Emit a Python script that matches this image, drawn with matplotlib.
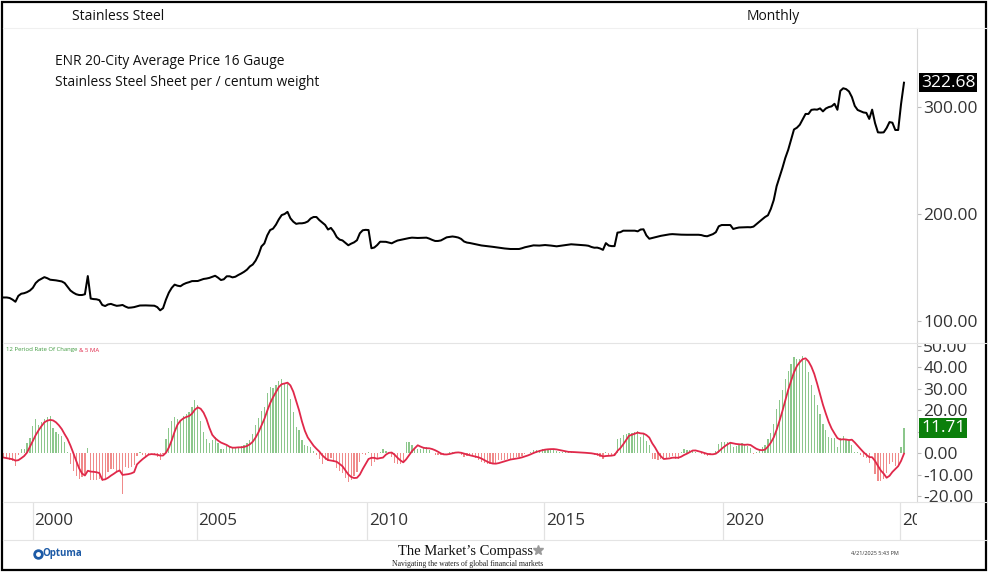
import numpy as np
import pandas as pd
import matplotlib
matplotlib.use("Agg")
import matplotlib.pyplot as plt
from matplotlib.patches import Rectangle
from matplotlib.lines import Line2D
from matplotlib.transforms import Bbox, TransformedBbox, blended_transform_factory, offset_copy

# ---------------- data ----------------
title_left = "Stainless Steel"
title_right = "Monthly"
series_note = ["ENR 20-City Average Price 16 Gauge",
               "Stainless Steel Sheet per / centum weight"]
roc_label = "12 Period Rate Of Change"
ma_label = "& 5 MA"
roc_period = 12
ma_period = 5

# monthly prices for the 12 months before the visible window (needed for the ROC)
price_prior = [124.5, 125.1, 125.3, 124.4, 125.5, 124.7, 123.0, 123.5, 121.4, 119.8, 116.2, 117.0]

# monthly prices, early 1999 -> early 2025
price = [
    122, 122, 121.5, 120, 118, 123.5, 125.5, 126, 127, 128.5,
    131, 135.5, 138, 139.5, 141, 140, 138.6, 138.3, 138, 137.5,
    137, 135.5, 132, 128.5, 126.5, 125, 124.3, 124.3, 125, 142,
    121, 120.5, 120.3, 119.5, 115, 114, 115.5, 116, 115, 114.2,
    114.5, 115, 113.5, 112.4, 112.6, 113, 113.8, 114.5, 114.6, 114.6,
    114.5, 114.4, 114.3, 113, 110, 112, 120, 126.5, 131, 134,
    133, 132.5, 134.3, 135.5, 136.3, 137.3, 137.4, 137.4, 138.3, 139.3,
    139.7, 140.3, 141.3, 142.3, 140.5, 138.3, 139, 141.8, 141.8, 140.8,
    141.4, 143, 144.4, 146, 148, 151, 152.8, 156.5, 162, 169.7,
    172.5, 180, 185, 186.3, 190, 195, 199, 200, 202, 196,
    192.8, 190.8, 191.3, 191.3, 191.8, 193, 195.8, 197.2, 197.2, 194.3,
    192, 189.8, 185.5, 187, 183.5, 178.5, 176.1, 175.3, 173, 170.8,
    172.3, 173.5, 175.5, 182, 184.8, 185.2, 185, 168, 168.7, 171,
    174.1, 174.1, 174, 173.3, 172.6, 174, 175.2, 175.8, 176.4, 177,
    177.5, 177.9, 177.7, 177.6, 177.7, 177.8, 177.9, 177, 175.8, 174.8,
    174.8, 175.3, 176.8, 178.2, 178.6, 179, 178.6, 178, 176.7, 174.3,
    173.3, 172.9, 172.3, 171.6, 171, 170.6, 170.3, 169.9, 169.6, 169.3,
    168.9, 168.5, 168.1, 167.8, 167.5, 167.3, 167.3, 167.3, 167.3, 168,
    168.9, 169.5, 170.2, 170.7, 170.6, 170.5, 170.7, 171, 170.8, 170.5,
    170.1, 169.8, 170.2, 170.7, 171, 171.4, 171.7, 171.5, 171.3, 171.1,
    170.9, 170.7, 170.3, 169.2, 168.5, 168.6, 167.8, 166.5, 172.8, 170.5,
    170, 170, 182.6, 183, 184.4, 184.4, 184.4, 184.4, 184.4, 183.8,
    185.5, 185.7, 180, 176.9, 177.6, 178.2, 178.9, 179.6, 180.1, 180.6,
    181, 181.2, 181, 180.8, 180.7, 180.6, 180.6, 180.6, 180.6, 180.6,
    180.6, 180.3, 179.5, 179.2, 180.2, 181.2, 183, 188.5, 189.7, 189.7,
    189.7, 189.7, 186, 186.8, 187.4, 187.5, 187.6, 187.7, 187.6, 188.2,
    190.5, 192.7, 195, 197.2, 198.8, 204.8, 213, 226, 234.5, 243,
    252.4, 260, 269.5, 279, 280.6, 283.4, 288.5, 293.5, 293.5, 297.3,
    297.7, 297.5, 298.7, 295.9, 298.6, 299.9, 300.6, 303, 297.4, 315,
    317.5, 316.7, 314.5, 309.3, 301, 297.2, 296.1, 294.9, 294.5, 288.85,
    297.5, 285, 276.3, 276.1, 276.3, 280.3, 285.9, 285.3, 278.5, 278.5,
    303, 322.68,
]

year_labels = ["2000", "2005", "2010", "2015", "2020", "2025"]
price_ticks = [100, 200, 300]
roc_ticks = [-20, -10, 0, 10, 20, 30, 40, 50]

# ---------------- derived series ----------------
full = np.array(price_prior + price, dtype=float)
roc = (full[roc_period:] / full[:-roc_period] - 1.0) * 100.0
ma = pd.Series(roc).rolling(ma_period, min_periods=1).mean().to_numpy()
x = np.arange(len(price))

# ---------------- layout ----------------
W, H = 989, 572
fig = plt.figure(figsize=(W / 100, H / 100), dpi=100)
fig.patch.set_facecolor("white")
plt.rcParams["font.family"] = ["Open Sans", "DejaVu Sans"]

def fx(px):
    return px / W

def fy(py):
    return 1 - py / H

L, R = 3, 917
year_tick_pos = [9.9, 66.6, 125.5, 186.7, 248.5, 309.5]   # bar-index positions of the year marks
xlim = (-0.3, 315.5)

ax1 = fig.add_axes([fx(L), fy(342), fx(R) - fx(L), fy(28) - fy(342)])
ax2 = fig.add_axes([fx(L), fy(502), fx(R) - fx(L), fy(343) - fy(502)], sharex=ax1)
ax3 = fig.add_axes([fx(L), fy(540), fx(R) - fx(L), fy(502) - fy(540)], sharex=ax1)

tick_col = "#333333"
axis_col = "#d6d6d6"

for ax in (ax1, ax2, ax3):
    ax.set_facecolor("none")
    for s in ax.spines.values():
        s.set_visible(False)
    ax.tick_params(axis="x", bottom=False, labelbottom=False)

# ---- price panel ----
ax1.plot(x, price, color="black", lw=1.45, solid_joinstyle="round")
ax1.set_xlim(*xlim)
ax1.set_ylim(80.4, 373.8)
ax1.yaxis.tick_right()
ax1.set_yticks(price_ticks)
ax1.set_yticklabels([f"{v:.2f}" for v in price_ticks])
ax1.tick_params(axis="y", direction="out", length=3, width=0.8, color="#bbbbbb",
                labelsize=12.5, labelcolor=tick_col, pad=1.5)
ax1.spines["right"].set_visible(True)
ax1.spines["right"].set_color(axis_col)
ax1.spines["right"].set_linewidth(0.8)

bt1 = blended_transform_factory(ax1.transAxes, ax1.transData)
ax1.annotate(f"{price[-1]:.2f}", xy=(1, price[-1]), xycoords=bt1,
             xytext=(4, 0), textcoords="offset pixels", ha="left", va="center",
             color="white", fontsize=12.5,
             bbox=dict(boxstyle="square,pad=0.1", fc="black", ec="none"), zorder=10)

ax1.text(fx(55), fy(62), series_note[0], transform=fig.transFigure, fontsize=9.9,
         color="#111111", va="center", ha="left")
ax1.text(fx(55), fy(82), series_note[1], transform=fig.transFigure, fontsize=9.9,
         color="#111111", va="center", ha="left")

# ---- ROC panel ----
pos_col = "#8cc78c"
neg_col = "#f08a8a"
ma_col = "#e0284a"
cols = [pos_col if v >= 0 else neg_col for v in roc]
ax2.bar(x, roc, width=0.42, color=cols, linewidth=0)
ax2.plot(x, ma, color=ma_col, lw=1.3)
ax2.set_ylim(-22.65, 51.3)
ax2.yaxis.tick_right()
ax2.set_yticks(roc_ticks)
ax2.set_yticklabels([f"{v:.2f}" for v in roc_ticks])
ax2.tick_params(axis="y", direction="out", length=3, width=0.8, color="#bbbbbb",
                labelsize=12.5, labelcolor=tick_col, pad=1.5)
ax2.spines["right"].set_visible(True)
ax2.spines["right"].set_color(axis_col)
ax2.spines["right"].set_linewidth(0.8)

clip_bb = TransformedBbox(Bbox.from_extents(fx(0), fy(502), fx(989), fy(343)), fig.transFigure)
for lbl in ax2.get_yticklabels():
    lbl.set_clip_box(clip_bb)
    lbl.set_clip_on(True)

bt2 = blended_transform_factory(ax2.transAxes, ax2.transData)
ax2.annotate(f"{roc[-1]:.2f}", xy=(1, roc[-1]), xycoords=bt2,
             xytext=(4, 0), textcoords="offset pixels", ha="left", va="center",
             color="white", fontsize=12.5,
             bbox=dict(boxstyle="square,pad=0.12", fc="#0b7f0b", ec="none"), zorder=10)

t1 = ax2.text(fx(6), fy(350), roc_label, transform=fig.transFigure, fontsize=4.3,
              color="#3f9a3f", va="center", ha="left")
ax2.annotate(ma_label, xy=(1, 0), xycoords=t1, xytext=(1.3, 0), textcoords="offset points",
             fontsize=4.3, color=ma_col, va="bottom", ha="left")

# ---- date band ----
ax3.set_ylim(0, 1)
ax3.tick_params(axis="y", left=False, right=False, labelleft=False)
bt3 = blended_transform_factory(ax3.transData, ax3.transAxes)
lab_tr = offset_copy(bt3, fig=fig, x=2, y=0, units="dots")
for pos, lab in zip(year_tick_pos, year_labels):
    ax3.axvline(pos, color="#e2e2e2", lw=0.9)
    t = ax3.text(pos, 0.5, lab, transform=lab_tr, ha="left", va="center",
                 fontsize=12.3, color=tick_col)
    t.set_clip_box(ax3.bbox)
    t.set_clip_on(True)

# ---------------- figure furniture ----------------
def hline(py, col, lw=0.8, x0=3, x1=986):
    fig.add_artist(Line2D([fx(x0), fx(x1)], [fy(py), fy(py)], color=col, lw=lw,
                          transform=fig.transFigure))

hline(28, "#f0f0f0")
hline(342.5, "#e4e4e4")
hline(502, "#e4e4e4")
hline(540, "#e4e4e4")

fig.text(fx(72), fy(16), title_left, fontsize=10, color="#111111", va="center", ha="left")
fig.text(fx(773), fy(16), title_right, fontsize=10, color="#111111", va="center", ha="center")

# footer
fig.add_artist(Line2D([fx(37.5)], [fy(553.5)], marker="o", ms=6.5, color="#1c5aa6",
                      transform=fig.transFigure))
fig.add_artist(Line2D([fx(37.5)], [fy(553.5)], marker="o", ms=2.5, color="white",
                      transform=fig.transFigure))
fig.text(fx(42), fy(553.5), "Optuma", fontsize=7, color="#1c5aa6", weight="bold",
         va="center", ha="left")
fig.text(fx(466), fy(551), "The Market\u2019s Compass", fontsize=10.5, color="#111111",
         family=["Liberation Serif", "DejaVu Serif"], va="center", ha="center")
fig.add_artist(Line2D([fx(538)], [fy(550)], marker="*", ms=7, color="#9a9a9a",
                      transform=fig.transFigure))
fig.text(fx(468), fy(564), "Navigating the waters of global financial markets", fontsize=5.5,
         color="#222222", family=["Liberation Serif", "DejaVu Serif"], va="center", ha="center")
fig.text(fx(875), fy(553.5), "4/21/2025 5:43 PM", fontsize=4, color="#333333",
         va="center", ha="center")

# outer border
fig.add_artist(Rectangle((fx(2), fy(570)), fx(986) - fx(2), fy(2) - fy(570), fill=False,
                         ec="black", lw=1.6, transform=fig.transFigure))

fig.savefig("out.png", dpi=100, facecolor="white")
